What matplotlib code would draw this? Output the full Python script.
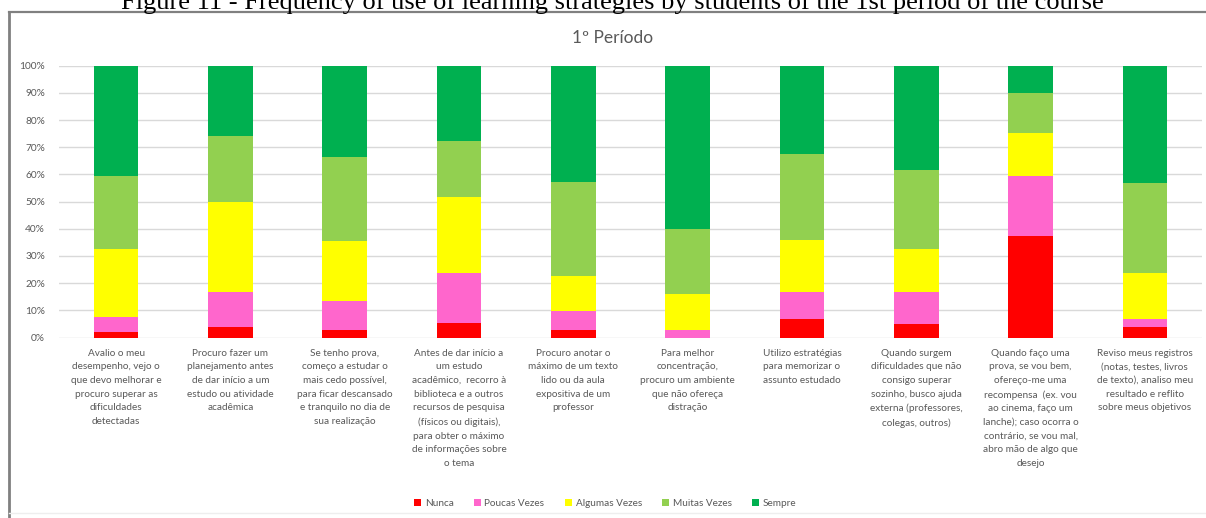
import matplotlib
matplotlib.use("Agg")
import matplotlib.pyplot as plt
from matplotlib.lines import Line2D
from matplotlib.patches import Patch
import numpy as np

W, H = 1206, 518

caption = "Figure 11 - Frequency of use of learning strategies by students of the 1st period of the course"
chart_title = "1º Período"

categories = [
    "Avalio o meu\ndesempenho, vejo o\nque devo melhorar e\nprocuro superar as\ndificuldades\ndetectadas",
    "Procuro fazer um\nplanejamento antes\nde dar início a um\nestudo ou atividade\nacadêmica",
    "Se tenho prova,\ncomeço a estudar o\nmais cedo possível,\npara ficar descansado\ne tranquilo no dia de\nsua realização",
    "Antes de dar início a\num estudo\nacadêmico,  recorro à\nbiblioteca e a outros\nrecursos de pesquisa\n(físicos ou digitais),\npara obter o máximo\nde informações sobre\no tema",
    "Procuro anotar o\nmáximo de um texto\nlido ou da aula\nexpositiva de um\nprofessor",
    "Para melhor\nconcentração,\nprocuro um ambiente\nque não ofereça\ndistração",
    "Utilizo estratégias\npara memorizar o\nassunto estudado",
    "Quando surgem\ndificuldades que não\nconsigo superar\nsozinho, busco ajuda\nexterna (professores,\ncolegas, outros)",
    "Quando faço uma\nprova, se vou bem,\nofereço-me uma\nrecompensa  (ex. vou\nao cinema, faço um\nlanche); caso ocorra o\ncontrário, se vou mal,\nabro mão de algo que\ndesejo",
    "Reviso meus registros\n(notas, testes, livros\nde texto), analiso meu\nresultado e reflito\nsobre meus objetivos",
]

series_names = ["Nunca", "Poucas Vezes", "Algumas Vezes", "Muitas Vezes", "Sempre"]
nunca = [2.0, 4.0, 2.8, 5.3, 2.8, 0.0, 6.9, 5.0, 37.4, 3.8]
poucas = [5.5, 12.7, 10.8, 18.4, 7.0, 2.7, 9.8, 11.7, 22.0, 2.9]
algumas = [25.0, 33.0, 21.9, 27.9, 12.9, 13.2, 19.0, 15.9, 15.7, 17.0]
muitas = [27.0, 24.5, 31.0, 20.7, 34.4, 23.9, 31.7, 29.0, 15.0, 33.0]
sempre = [40.5, 25.8, 33.5, 27.7, 42.9, 60.2, 32.6, 38.4, 9.9, 43.3]
colors = ["#FF0000", "#FF66CC", "#FFFF00", "#92D050", "#00B050"]

yticks = [0, 10, 20, 30, 40, 50, 60, 70, 80, 90, 100]
ytick_labels = [f"{v}%" for v in yticks]

plt.rcParams['font.family'] = ['Lato', 'DejaVu Sans']

fig = plt.figure(figsize=(W / 100, H / 100), dpi=100)
fig.patch.set_facecolor("white")

ax = fig.add_axes([59 / W, 1 - 337.5 / H, (1202 - 59) / W, (337.5 - 65.7) / H])

data = [nunca, poucas, algumas, muitas, sempre]
x = np.arange(len(categories))
bottom = np.zeros(len(categories))
for name, vals, c in zip(series_names, data, colors):
    vals = np.array(vals)
    ax.bar(x, vals, 0.39, bottom=bottom, color=c, label=name, zorder=3, linewidth=0)
    bottom += vals

ax.set_xlim(-0.5, len(categories) - 0.5)
ax.set_ylim(0, 100)
ax.set_yticks(yticks)
ax.set_yticklabels(ytick_labels, fontsize=7.3, color="#595959")
ax.set_xticks(x)
ax.set_xticklabels(categories, fontsize=7.2, color="#595959", linespacing=1.67, va="top")
ax.tick_params(axis="both", length=0)
ax.tick_params(axis="y", pad=10)
ax.tick_params(axis="x", pad=8)
for s in ax.spines.values():
    s.set_visible(False)
ax.grid(axis="y", color="#d9d9d9", linewidth=1, zorder=0)
ax.set_axisbelow(True)

# chart title
fig.text(613 / W, 1 - 38 / H, chart_title, ha="center", va="center", fontsize=12.5, color="#595959")

# caption (partly cut at top)
fig.text(612 / W, 1 - 8.5 / H, caption, ha="center", va="baseline", fontsize=19,
         family="Liberation Serif", color="black")

# frame of the chart box
fig.add_artist(Line2D([9 / W, 1.0], [1 - 12 / H, 1 - 12 / H], color="#808080", linewidth=1.6))
fig.add_artist(Line2D([9 / W, 9 / W], [1 - 12 / H, 0.0], color="#808080", linewidth=2.0))
fig.add_artist(Line2D([9 / W, 1.0], [1 - 513 / H, 1 - 513 / H], color="#eeeeee", linewidth=1.0))

handles = [Patch(facecolor=c, edgecolor="none") for c in colors]
fig.legend(handles, series_names, loc="center", bbox_to_anchor=(605 / W, 1 - 503 / H), ncol=5,
           frameon=False, fontsize=7.2, labelcolor="#595959", handlelength=0.7, handleheight=0.7,
           handletextpad=0.4, columnspacing=2.0)

fig.savefig("out.png", dpi=100, facecolor="white")
